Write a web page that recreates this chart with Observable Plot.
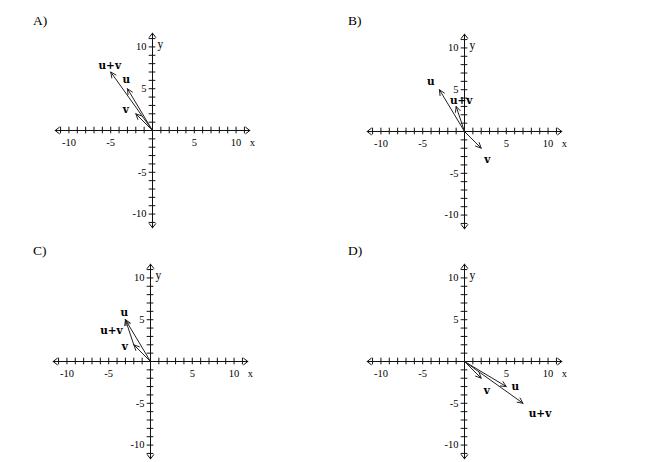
<!DOCTYPE html>
<html>
<head>
<meta charset="utf-8">
<script src="https://cdn.jsdelivr.net/npm/d3@7"></script>
<script src="https://cdn.jsdelivr.net/npm/@observablehq/plot@0.6"></script>
<style>
  html, body { margin: 0; padding: 0; background: #fff; }
  body { width: 650px; height: 462px; position: relative; overflow: hidden; }
  .panel { position: absolute; }
  .letter { position: absolute; font: 13.5px/13.5px "Liberation Serif", serif; color: #000; }
</style>
</head>
<body>
<script>
// ---- data ----
const panels = ["A", "B", "C", "D"];
const vecPanel = ["A","A","A", "B","B","B", "C","C","C", "D","D","D"];
const vecName  = ["u","v","u+v", "u","v","u+v", "u","v","u+v", "u","v","u+v"];
const vecX1 = [0,0,0,  0,0,0,  0,0,-2,  0,0,0];
const vecY1 = [0,0,0,  0,0,0,  0,0,2,   0,0,0];
const vecX2 = [-3,-2,-5,  -3,2,-1,  -3,-2,-3,  5,2,7];
const vecY2 = [5,2,7,     5,-2,3,   5,2,5,     -3,-2,-5];
const tickValues = d3.range(-11, 12).filter(d => d !== 0);
const tickLabelValues = [-10, -5, 5, 10];
const tickLabelText = ["-10", "-5", "5", "10"];
const axisNames = ["x", "y"];

// ---- layout / style (not data) ----
const S = 234, R = 14, axisEnd = 11.65, tickHalf = 0.4;
const panelOrigin = { A: [152.3, 129.7], B: [464, 130.7], C: [149.5, 360.7], D: [464, 361] };
const letterPos = { A: [33, 14], B: [348, 14], C: [33, 244], D: [348, 244] };
// label offsets in px, per panel & vector name
const labelOffset = {
  A: { "u": [-1, -9], "v": [-10, -4.5], "u+v": [-1, -6] },
  B: { "u": [-8.5, -8.5], "v": [6, 11], "u+v": [5, -5.5] },
  C: { "u": [-1, -7.5], "v": [-9, 2], "u+v": [-14, 11] },
  D: { "u": [9, 0], "v": [5.5, 12], "u+v": [17, 10] }
};
const ink = "#111";

const vectors = vecPanel.map((p, i) => ({
  panel: p, name: vecName[i], x1: vecX1[i], y1: vecY1[i], x2: vecX2[i], y2: vecY2[i]
}));
const axisArrows = [
  { x1: 0, y1: 0, x2: axisEnd, y2: 0 }, { x1: 0, y1: 0, x2: -axisEnd, y2: 0 },
  { x1: 0, y1: 0, x2: 0, y2: axisEnd }, { x1: 0, y1: 0, x2: 0, y2: -axisEnd }
];
const tickLabels = tickLabelValues.map((v, i) => ({ v, t: tickLabelText[i] }));

panels.forEach(p => {
  const [ox, oy] = panelOrigin[p];
  const div = document.createElement("div");
  div.className = "panel";
  div.style.left = (ox - S / 2) + "px";
  div.style.top = (oy - S / 2) + "px";
  const vecs = vectors.filter(d => d.panel === p);
  const off = labelOffset[p];
  const chart = Plot.plot({
    width: S, height: S, margin: 0,
    x: { domain: [-R, R], axis: null },
    y: { domain: [-R, R], axis: null },
    style: { background: "transparent", overflow: "visible" },
    marks: [
      Plot.arrow(axisArrows, { x1: "x1", y1: "y1", x2: "x2", y2: "y2", stroke: ink, strokeWidth: 1, headLength: 8, headAngle: 75 }),
      Plot.ruleX(tickValues, { x: d => d, y1: -tickHalf, y2: tickHalf, stroke: ink, strokeWidth: 1 }),
      Plot.ruleY(tickValues, { y: d => d, x1: -tickHalf, x2: tickHalf, stroke: ink, strokeWidth: 1 }),
      Plot.text(tickLabels, { x: "v", y: 0, text: "t", dy: 12, fontFamily: "Liberation Serif", fontSize: 10.5, fill: "#000" }),
      Plot.text(tickLabels, { x: 0, y: "v", text: "t", dx: -6, textAnchor: "end", fontFamily: "Liberation Serif", fontSize: 10.5, fill: "#000" }),
      Plot.text([axisNames[0]], { x: axisEnd, y: 0, text: d => d, dy: 12, textAnchor: "start", fontFamily: "Liberation Serif", fontSize: 10.5, fill: "#000" }),
      Plot.text([axisNames[1]], { x: 0, y: axisEnd, text: d => d, dx: 5, dy: 11, textAnchor: "start", fontFamily: "Liberation Serif", fontSize: 11.5, fill: "#000" }),
      Plot.arrow(vecs, { x1: "x1", y1: "y1", x2: "x2", y2: "y2", stroke: "#222", strokeWidth: 1, headLength: 9, headAngle: 50 }),
      ...vecs.map(v => Plot.text([v], { x: "x2", y: "y2", text: "name", dx: off[v.name][0], dy: off[v.name][1],
        fontFamily: "DejaVu Serif", fontWeight: "bold", fontSize: 10.5, fill: "#000" }))
    ]
  });
  div.appendChild(chart);
  document.body.appendChild(div);

  const lab = document.createElement("div");
  lab.className = "letter";
  lab.style.left = letterPos[p][0] + "px";
  lab.style.top = letterPos[p][1] + "px";
  lab.textContent = p + ")";
  document.body.appendChild(lab);
});
</script>
</body>
</html>
